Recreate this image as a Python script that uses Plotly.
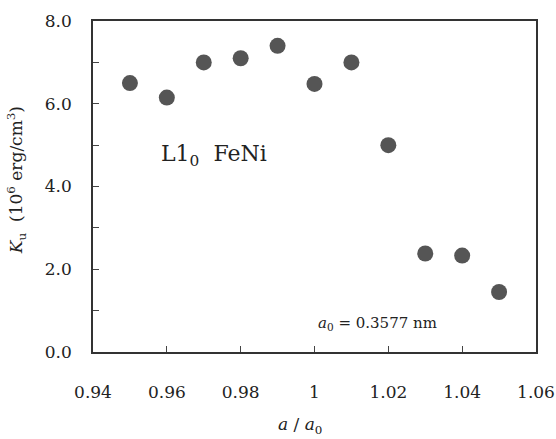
import plotly.graph_objects as go

ratio = [0.95, 0.96, 0.97, 0.98, 0.99, 1.00, 1.01, 1.02, 1.03, 1.04, 1.05]
ku = [6.5, 6.15, 7.0, 7.1, 7.4, 6.48, 7.0, 5.0, 2.38, 2.33, 1.45]

FONT = "DejaVu Serif"

fig = go.Figure()
fig.add_trace(go.Scatter(
    x=ratio, y=ku, mode="markers",
    marker=dict(size=16, color="#555555"),
    showlegend=False,
))

fig.update_layout(
    width=556, height=439,
    margin=dict(l=93, r=20, t=21, b=87),
    paper_bgcolor="white", plot_bgcolor="white",
    font=dict(family=FONT, size=17, color="#222"),
)
fig.update_xaxes(
    range=[0.94, 1.06], dtick=0.02, tick0=0.94,
    ticks="inside", ticklen=6, tickcolor="#444",
    showline=True, linecolor="#333", linewidth=1.5, mirror=True,
    showgrid=False, zeroline=False, automargin=False,
    tickfont=dict(family=FONT, size=17),
    ticklabelstandoff=24, ticklabeloverflow="allow",
)
fig.update_yaxes(
    range=[0, 8], dtick=2, tickformat=".1f",
    ticks="inside", ticklen=6, tickcolor="#444",
    minor=dict(dtick=1, ticks="inside", ticklen=6, tickcolor="#444"),
    showline=True, linecolor="#333", linewidth=1.5, mirror=True,
    showgrid=False, zeroline=False, automargin=False,
    tickfont=dict(family=FONT, size=17),
    ticklabelstandoff=16, ticklabeloverflow="allow",
)

fig.add_annotation(
    x=-0.171, y=0.52, xref="paper", yref="paper",
    text="<i>K</i><sub>u</sub>  (10<sup>6</sup> erg/cm<sup>3</sup>)",
    textangle=-90, showarrow=False, xanchor="center", yanchor="middle",
    font=dict(family=FONT, size=17, color="#222"),
)
fig.add_annotation(
    x=0.467, y=-0.222, xref="paper", yref="paper",
    text="<i>a</i> / <i>a</i><sub>0</sub>",
    showarrow=False, xanchor="center", yanchor="middle",
    font=dict(family=FONT, size=17, color="#222"),
)
fig.add_annotation(
    x=0.9578, y=4.75, xref="x", yref="y",
    text="L1<sub>0</sub>  FeNi", showarrow=False, xanchor="left",
    font=dict(family=FONT, size=22, color="#222"),
)
fig.add_annotation(
    x=1.0004, y=0.70, xref="x", yref="y",
    text="<i>a</i><sub>0</sub> = 0.3577 nm", showarrow=False, xanchor="left",
    font=dict(family=FONT, size=15, color="#222"),
)

fig.write_html(
    "out.html",
    config={"displayModeBar": False},
    post_script="document.body.style.margin='0';document.body.style.overflow='hidden';",
)
